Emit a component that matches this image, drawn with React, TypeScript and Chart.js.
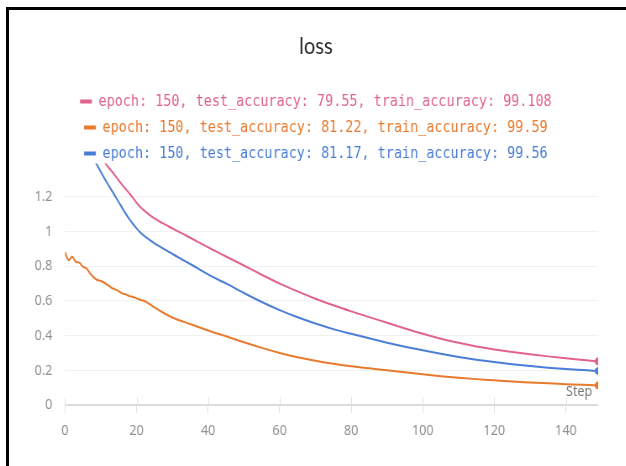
import React, { useEffect, useRef } from "react";
import { Chart, registerables } from "chart.js";

Chart.register(...registerables);

// ---- data ----
const chartTitle = "loss";
const xAxisName = "Step";

const steps = [
  0, 1, 2, 3, 4, 5, 6, 7, 8, 9, 10, 11, 12, 13, 14, 15, 16, 17, 18, 19, 20, 21, 22, 23, 24, 25,
  27, 29, 31, 33, 35, 37, 39, 41, 43, 45, 50, 55, 60, 65, 70, 75, 80, 85, 90, 95, 100, 105, 110,
  115, 120, 125, 130, 135, 140, 145, 149,
];

const pinkLoss = [
  1.95, 1.88, 1.82, 1.76, 1.7, 1.65, 1.6, 1.56, 1.51, 1.47, 1.43, 1.4, 1.372, 1.347, 1.321, 1.294,
  1.267, 1.242, 1.218, 1.192, 1.165, 1.142, 1.122, 1.105, 1.089, 1.074,
  1.05, 1.028, 1.006, 0.985, 0.963, 0.941, 0.919, 0.897, 0.876, 0.855, 0.803, 0.75, 0.699, 0.654,
  0.612, 0.574, 0.539, 0.506, 0.474, 0.441, 0.41, 0.382, 0.358, 0.337, 0.32, 0.305, 0.292, 0.28,
  0.269, 0.259, 0.251,
];

const orangeLoss = [
  0.88, 0.834, 0.853, 0.825, 0.82, 0.796, 0.787, 0.758, 0.735, 0.72, 0.714, 0.704, 0.69, 0.675,
  0.666, 0.656, 0.643, 0.637, 0.627, 0.622, 0.614, 0.606, 0.6, 0.589, 0.576, 0.562,
  0.537, 0.514, 0.495, 0.48, 0.466, 0.451, 0.436, 0.422, 0.409, 0.396, 0.361, 0.329, 0.3, 0.275,
  0.255, 0.238, 0.223, 0.211, 0.2, 0.189, 0.177, 0.166, 0.157, 0.149, 0.142, 0.135, 0.13, 0.125,
  0.12, 0.116, 0.113,
];

const blueLoss = [
  1.82, 1.76, 1.7, 1.65, 1.6, 1.55, 1.5, 1.46, 1.42, 1.381, 1.343, 1.306, 1.271, 1.237, 1.203,
  1.169, 1.134, 1.101, 1.07, 1.042, 1.017, 0.995, 0.976, 0.96, 0.945, 0.931,
  0.906, 0.882, 0.858, 0.835, 0.812, 0.788, 0.764, 0.741, 0.72, 0.7, 0.645, 0.593, 0.546, 0.505,
  0.469, 0.437, 0.41, 0.384, 0.359, 0.336, 0.315, 0.295, 0.277, 0.261, 0.247, 0.235, 0.224, 0.215,
  0.207, 0.201, 0.196,
];

const seriesLabels = [
  "epoch: 150, test_accuracy: 79.55, train_accuracy: 99.108",
  "epoch: 150, test_accuracy: 81.22, train_accuracy: 99.59",
  "epoch: 150, test_accuracy: 81.17, train_accuracy: 99.56",
];
const seriesColors = ["#e0628f", "#e8792d", "#4a7dd6"];

const xTicks = [0, 20, 40, 60, 80, 100, 120, 140];
const yTicks = [0, 0.2, 0.4, 0.6, 0.8, 1, 1.2];

// ---- layout (horizontal condensation like the reference) ----
const S = 0.84;
const W = 626;
const H = 466;
const LW = Math.round(W / S);

const extrasPlugin = {
  id: "extras",
  beforeDatasetsDraw(chart: any) {
    const { ctx, chartArea, scales } = chart;
    const xs = scales.x;
    ctx.save();
    ctx.strokeStyle = "#e2e2e2";
    ctx.lineWidth = 1;
    xs.ticks.forEach((t: any) => {
      const px = Math.round(xs.getPixelForValue(t.value)) + 0.5;
      ctx.beginPath();
      ctx.moveTo(px, chartArea.bottom - 8);
      ctx.lineTo(px, chartArea.bottom);
      ctx.stroke();
    });
    ctx.font = '15px "Noto Sans"';
    ctx.fillStyle = "#777";
    ctx.textAlign = "right";
    ctx.textBaseline = "alphabetic";
    ctx.fillText(xAxisName, chartArea.right - 7, chartArea.bottom - 9);
    ctx.restore();
  },
};

export default function App() {
  const ref = useRef<HTMLCanvasElement>(null);

  useEffect(() => {
    const series = [pinkLoss, orangeLoss, blueLoss];
    const last = steps.length - 1;
    const chart = new Chart(ref.current as HTMLCanvasElement, {
      type: "line",
      data: {
        datasets: series.map((vals, i) => ({
          label: seriesLabels[i],
          data: steps.map((s, j) => ({ x: s, y: vals[j] })),
          borderColor: seriesColors[i],
          backgroundColor: seriesColors[i],
          pointBackgroundColor: seriesColors[i],
          borderWidth: 2,
          pointBorderWidth: 0,
          pointRadius: (c: any) => (c.dataIndex === last ? 3.8 : 0),
          pointHoverRadius: 0,
          cubicInterpolationMode: "monotone" as const,
          fill: false,
        })),
      },
      options: {
        animation: false,
        responsive: false,
        maintainAspectRatio: false,
        layout: { padding: { top: 10, left: 40, right: 33, bottom: 0 } },
        plugins: {
          title: {
            display: true,
            text: chartTitle,
            color: "#2b2b2b",
            font: { family: "Lato", size: 24, weight: "normal" },
            padding: { top: 21.6, bottom: 23.2 },
          },
          legend: {
            display: true,
            position: "top",
            maxHeight: 80,
            labels: {
              font: { family: '"DejaVu Sans Mono"', size: 16 },
              padding: 10,
              boxWidth: 14,
              boxHeight: 4,
              generateLabels: (c: any) =>
                c.data.datasets.map((d: any, i: number) => ({
                  text: d.label,
                  fillStyle: d.borderColor,
                  strokeStyle: d.borderColor,
                  fontColor: d.borderColor,
                  lineWidth: 0,
                  hidden: false,
                  datasetIndex: i,
                })),
            },
          },
          tooltip: { enabled: false },
        },
        scales: {
          x: {
            type: "linear",
            min: 0,
            max: 149,
            afterBuildTicks: (scale: any) => {
              scale.ticks = xTicks.map((v) => ({ value: v }));
            },
            afterFit: (scale: any) => {
              scale.height = H - 405;
            },
            ticks: {
              padding: 9,
              color: "#8f8f8f",
              font: { family: '"Noto Sans"', size: 15 },
              maxRotation: 0,
              autoSkip: false,
              callback: (v: any) => String(v),
            },
            grid: { drawOnChartArea: false, drawTicks: true, tickLength: 8, color: "#e2e2e2" },
            border: { display: false },
          },
          y: {
            min: 0,
            max: 1.39,
            afterBuildTicks: (scale: any) => {
              scale.ticks = yTicks.map((v) => ({ value: v }));
            },
            afterFit: (scale: any) => {
              scale.width = 65 / S - 40;
            },
            ticks: {
              padding: 15,
              color: "#8f8f8f",
              font: { family: '"Noto Sans"', size: 15 },
              callback: (v: any) => String(v),
            },
            grid: {
              drawTicks: false,
              color: (c: any) => (c.tick && c.tick.value === 0 ? "#dcdcdc" : "#f1f1f1"),
              lineWidth: (c: any) => (c.tick && c.tick.value === 0 ? 2 : 1),
            },
            border: { display: false },
          },
        },
      },
      plugins: [extrasPlugin],
    } as any);
    return () => chart.destroy();
  }, []);

  return (
    <div
      style={{
        position: "absolute",
        left: 0,
        top: 0,
        width: W,
        height: H,
        overflow: "hidden",
        background: "#fff",
      }}
    >
      <div
        style={{
          position: "absolute",
          left: 0,
          top: 0,
          width: LW,
          height: H,
          transform: `scaleX(${S})`,
          transformOrigin: "0 0",
        }}
      >
        <canvas ref={ref} width={LW} height={H} style={{ width: LW, height: H, display: "block" }} />
      </div>
      <div
        style={{
          position: "absolute",
          left: 6,
          top: 7,
          right: 0,
          bottom: 0,
          borderTop: "3px solid #000",
          borderLeft: "3px solid #000",
          pointerEvents: "none",
        }}
      />
    </div>
  );
}
